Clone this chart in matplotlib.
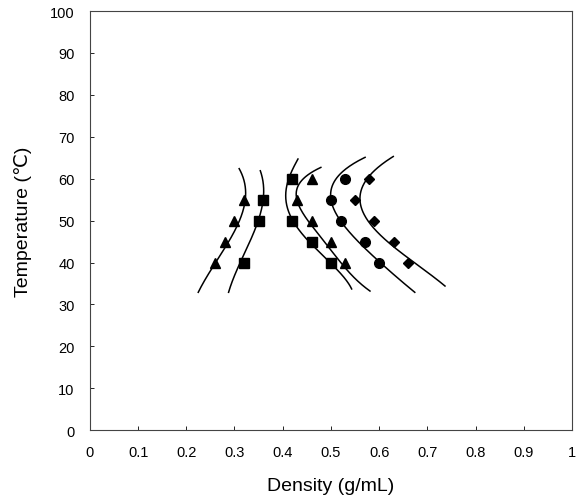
import numpy as np
import matplotlib
matplotlib.use("Agg")
import matplotlib.pyplot as plt

plt.rcParams["font.family"] = ["Liberation Sans", "DejaVu Sans"]

# measured points: temperature (C) and density (g/mL)
tri1_t = [40, 45, 50, 55]
tri1_d = [0.26, 0.28, 0.30, 0.32]
sq1_t = [40, 50, 55]
sq1_d = [0.32, 0.35, 0.36]
sq2_t = [40, 45, 50, 60]
sq2_d = [0.50, 0.46, 0.42, 0.42]
tri2_t = [40, 45, 50, 55, 60]
tri2_d = [0.53, 0.50, 0.46, 0.43, 0.46]
circ_t = [40, 45, 50, 55, 60]
circ_d = [0.60, 0.57, 0.52, 0.50, 0.53]
dia_t = [40, 45, 50, 55, 60]
dia_d = [0.66, 0.63, 0.59, 0.55, 0.58]

# fitted curves, points
curve_t = [
    [32.9, 42.4, 48.0, 55.9, 62.4],
    [32.9, 39.2, 48.0, 53.9, 61.9],
    [33.7, 40.8, 45.6, 51.1, 56.7, 61.1, 64.7],
    [33.2, 40.8, 46.4, 51.1, 55.9, 60.7, 62.7],
    [32.9, 40.0, 46.4, 51.1, 55.1, 61.9, 65.1],
    [34.4, 40.0, 44.8, 50.8, 54.3, 60.7, 65.3],
]
curve_d = [
    [0.225, 0.273, 0.304, 0.322, 0.310],
    [0.287, 0.311, 0.339, 0.361, 0.353],
    [0.543, 0.491, 0.450, 0.415, 0.408, 0.415, 0.432],
    [0.581, 0.515, 0.477, 0.443, 0.432, 0.446, 0.481],
    [0.674, 0.602, 0.546, 0.512, 0.501, 0.526, 0.571],
    [0.737, 0.671, 0.622, 0.571, 0.560, 0.581, 0.629],
]

fig = plt.figure(figsize=(5.76, 5.02), dpi=100)
ax = fig.add_axes([0.156, 0.141, 0.837, 0.835])

for t, d in zip(curve_t, curve_d):
    deg = 3 if len(t) < 6 else 4
    coef = np.polyfit(t, d, deg)
    tt = np.linspace(t[0], t[-1], 200)
    ax.plot(np.polyval(coef, tt), tt, color="black", lw=1.1)

ax.plot(tri1_d, tri1_t, "^", color="black", ms=7, ls="none")
ax.plot(sq1_d, sq1_t, "s", color="black", ms=7, ls="none")
ax.plot(sq2_d, sq2_t, "s", color="black", ms=7, ls="none")
ax.plot(tri2_d, tri2_t, "^", color="black", ms=7, ls="none")
ax.plot(circ_d, circ_t, "o", color="black", ms=7, ls="none")
ax.plot(dia_d, dia_t, "D", color="black", ms=5.5, ls="none")

ax.set_xlim(0, 1)
ax.set_ylim(0, 100)
ax.set_xticks(np.arange(0, 1.01, 0.1))
ax.set_xticklabels(["0", "0.1", "0.2", "0.3", "0.4", "0.5", "0.6", "0.7", "0.8", "0.9", "1"])
ax.set_yticks(np.arange(0, 101, 10))
ax.tick_params(direction="in", length=3, width=0.6, labelsize=10.5)
ax.tick_params(axis="x", pad=10.5)
ax.tick_params(axis="y", pad=11)
for sp in ax.spines.values():
    sp.set_linewidth(0.8)
    sp.set_color("#444444")

ax.set_xlabel("Density (g/mL)", fontsize=14, labelpad=13)
ax.set_ylabel("Temperature (℃)", fontsize=14, labelpad=13)

fig.savefig("out.png", dpi=100)
